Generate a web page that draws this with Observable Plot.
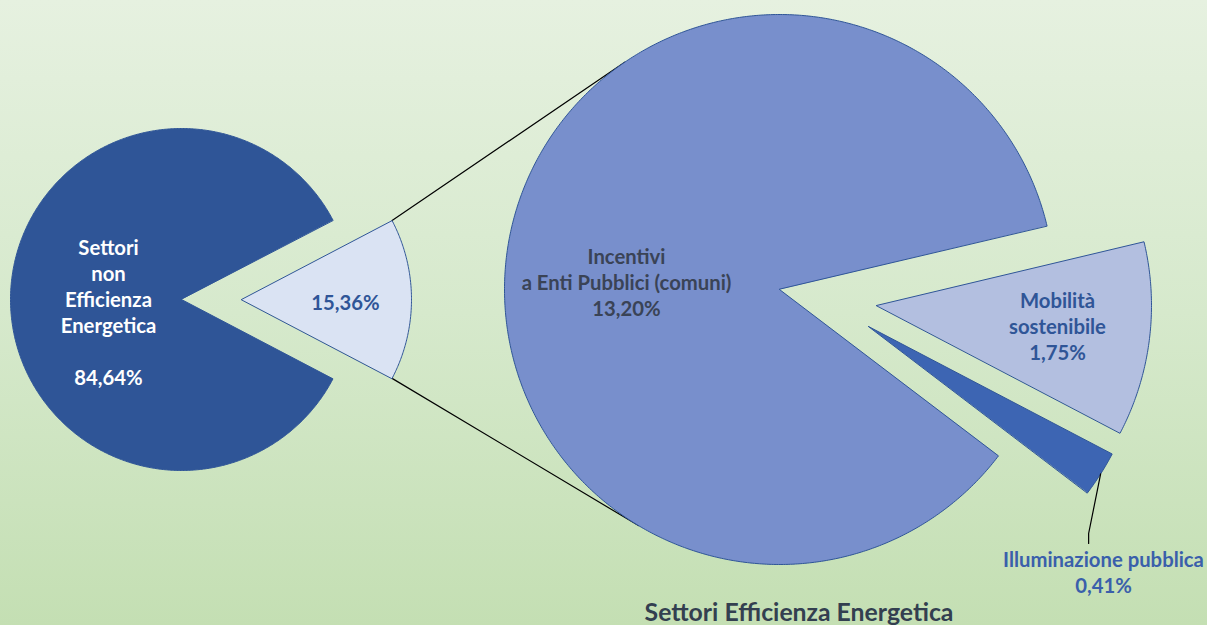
<!DOCTYPE html>
<html>
<head>
<meta charset="utf-8">
<script src="https://cdn.jsdelivr.net/npm/d3@7"></script>
<script src="https://cdn.jsdelivr.net/npm/@observablehq/plot@0.6"></script>
<style>
  html, body { margin: 0; padding: 0; }
  body { width: 1207px; height: 625px; overflow: hidden;
         background: linear-gradient(to bottom, #e6f1e0 0%, #d6e9cc 50%, #c4dfb3 100%);
         font-family: Lato, "Open Sans", sans-serif; position: relative; }
  #chart svg { display: block; background: transparent; }
  #title { position: absolute; left: 799px; top: 598px; transform: translateX(-50%);
           height: 27px; line-height: 27px; font-size: 24.8px; font-weight: bold;
           color: #333f50; white-space: nowrap; }
</style>
</head>
<body>
<div id="chart"></div>
<div id="title">Settori Efficienza Energetica</div>
<script>
// ---- data ----
const mainCategories = ["Settori\nnon\nEfficienza\nEnergetica", "Settori Efficienza Energetica"];
const mainValues = [84.64, 15.36];
const detailCategories = ["Incentivi\na Enti Pubblici (comuni)", "Mobilità\nsostenibile", "Illuminazione pubblica"];
const detailValues = [13.20, 1.75, 0.41];

// ---- layout / style ----
const W = 1207, H = 598;
const deg = Math.PI / 180;
const fmt = v => v.toFixed(2).replace(".", ",") + "%";
const mainColors = ["#2f5597", "#dae3f3"];
const detailColors = ["#788fcc", "#b3bfe0", "#3d65b3"];
const left = {cx: 181, cy: 299, r: 171, explode: 60};
const right = {cx: 779, cy: 289, r: 275, start: -13.4 * deg};
const detailOffsets = [[0, 0], [97, 16], [89, 37]];

function wedge(cx, cy, r, a0, a1) {
  const pts = [[cx, cy]];
  const n = Math.max(4, Math.ceil(Math.abs(a1 - a0) / (0.5 * deg)));
  for (let i = 0; i <= n; i++) {
    const a = a0 + (a1 - a0) * i / n;
    pts.push([cx + r * Math.cos(a), cy + r * Math.sin(a)]);
  }
  return pts;
}

// main pie: small slice centred on 3 o'clock, exploded to the right
const mainTotal = d3.sum(mainValues);
const smallSpan = mainValues[1] / mainTotal * 2 * Math.PI;
const darkPoly = wedge(left.cx, left.cy, left.r, smallSpan / 2, 2 * Math.PI - smallSpan / 2);
const lx = left.cx + left.explode;
const lightPoly = wedge(lx, left.cy, left.r - 1, -smallSpan / 2, smallSpan / 2);

// detail pie: order clockwise Mobilità, Illuminazione, Incentivi
const detTotal = d3.sum(detailValues);
const order = [1, 2, 0];
const detail = [];
let a = right.start;
for (const i of order) {
  const span = detailValues[i] / detTotal * 2 * Math.PI;
  const [ox, oy] = detailOffsets[i];
  detail[i] = {a0: a, a1: a + span, cx: right.cx + ox, cy: right.cy + oy,
               poly: wedge(right.cx + ox, right.cy + oy, right.r, a, a + span)};
  a += span;
}

// connector lines: from light slice corners, tangent to detail pie
function tangent(px, py, upper) {
  const dx = px - right.cx, dy = py - right.cy;
  const d = Math.hypot(dx, dy);
  const base = Math.atan2(dy, dx);
  const delta = Math.acos(right.r / d);
  const cands = [base + delta, base - delta].map(t => [right.cx + right.r * Math.cos(t), right.cy + right.r * Math.sin(t)]);
  cands.sort((p, q) => p[1] - q[1]);
  return upper ? cands[0] : cands[1];
}
const cTop = [lx + (left.r - 1) * Math.cos(-smallSpan / 2), left.cy + (left.r - 1) * Math.sin(-smallSpan / 2)];
const cBot = [lx + (left.r - 1) * Math.cos(smallSpan / 2), left.cy + (left.r - 1) * Math.sin(smallSpan / 2)];
const connectors = [
  {id: "top", pts: [cTop, tangent(cTop[0], cTop[1], true)]},
  {id: "bot", pts: [cBot, tangent(cBot[0], cBot[1], false)]}
];

// leader for Illuminazione pubblica
const il = detail[2];
const ilMid = (il.a0 + il.a1) / 2;
const ilEdge = [il.cx + right.r * Math.cos(ilMid), il.cy + right.r * Math.sin(ilMid)];
const ilLabel = {x: 1103, y: 571};
const leader = [ilEdge, [ilEdge[0] - 12, ilLabel.y - 38], [ilEdge[0] - 12, ilLabel.y - 28]];

const poly = (pts, fill, stroke) => Plot.line(pts, {x: d => d[0], y: d => d[1], curve: "linear-closed", fill, stroke, strokeWidth: 1});
const font = {fontFamily: "Lato, 'Open Sans', sans-serif", fontWeight: "bold", fontSize: 20.3, lineHeight: 1.28};

const labels = [
  {x: 108, y: 311, text: mainCategories[0] + "\n\n" + fmt(mainValues[0]), fill: "#ffffff"},
  {x: 345, y: 301, text: fmt(mainValues[1]), fill: "#2f5597"},
  {x: 626, y: 281, text: detailCategories[0] + "\n" + fmt(detailValues[0]), fill: "#3a4356"},
  {x: 1057, y: 325, text: detailCategories[1] + "\n" + fmt(detailValues[1]), fill: "#2f5597"},
  {x: ilLabel.x, y: ilLabel.y, text: detailCategories[2] + "\n" + fmt(detailValues[2]), fill: "#3a5fab"}
];

const chart = Plot.plot({
  width: W, height: H, margin: 0,
  x: {domain: [0, W], range: [0, W], axis: null},
  y: {domain: [0, H], range: [0, H], axis: null},
  style: {background: "transparent", overflow: "visible"},
  marks: [
    ...connectors.map(c => Plot.line(c.pts, {x: d => d[0], y: d => d[1], stroke: "#000", strokeWidth: 1.2})),
    poly(darkPoly, mainColors[0], mainColors[0]),
    poly(lightPoly, mainColors[1], "#2f5597"),
    poly(detail[0].poly, detailColors[0], "#2f5597"),
    poly(detail[1].poly, detailColors[1], "#2f5597"),
    poly(detail[2].poly, detailColors[2], "#2f5597"),
    Plot.line(leader, {x: d => d[0], y: d => d[1], stroke: "#000", strokeWidth: 1.2}),
    Plot.text(labels, {x: "x", y: "y", text: "text", fill: "fill", textAnchor: "middle", ...font})
  ]
});
document.getElementById("chart").appendChild(chart);
</script>
</body>
</html>
